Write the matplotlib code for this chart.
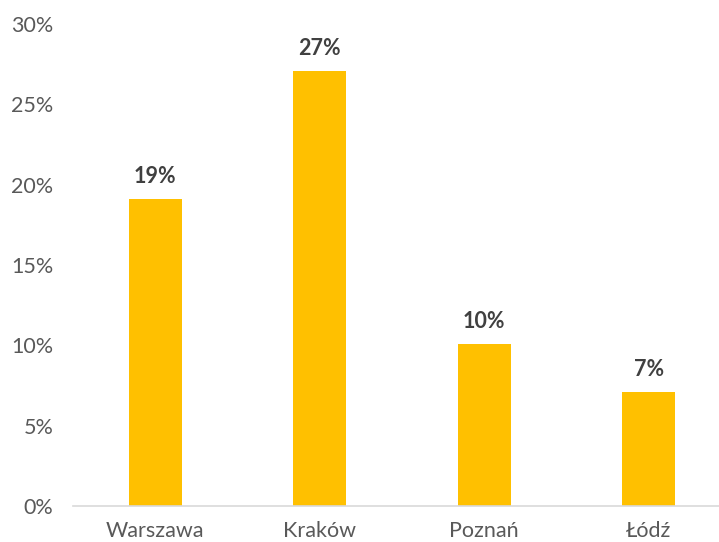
import matplotlib
matplotlib.use("Agg")
import matplotlib.pyplot as plt
from matplotlib.ticker import FuncFormatter

categories = ["Warszawa", "Kraków", "Poznań", "Łódź"]
values = [19.1, 27.1, 10.1, 7.1]
labels = ["19%", "27%", "10%", "7%"]

plt.rcParams['font.family'] = ['Lato', 'DejaVu Sans']

fig = plt.figure(figsize=(7.19, 5.42), dpi=100)
ax = fig.add_axes([73/719, 36/542, 658/719, 482/542])

x = range(len(categories))
bars = ax.bar(x, values, width=0.32, color="#FFC000", zorder=2)
for xi, v, lab in zip(x, values, labels):
    ax.text(xi, v + 0.75, lab, ha="center", va="bottom", fontsize=15.5,
            fontweight="bold", color="#404040")

ax.set_xlim(-0.5, len(categories) - 0.5)
ax.set_ylim(0, 30)
ax.set_yticks(range(0, 31, 5))
ax.yaxis.set_major_formatter(FuncFormatter(lambda v, p: f"{int(v)}%"))
ax.set_xticks(list(x))
ax.set_xticklabels(categories)
ax.tick_params(axis="both", length=0, labelsize=15.5, labelcolor="#595959")
ax.tick_params(axis="x", pad=11)
ax.tick_params(axis="y", pad=14)
for s in ["top", "right", "left"]:
    ax.spines[s].set_visible(False)
ax.spines["bottom"].set_color("#D9D9D9")
ax.spines["bottom"].set_linewidth(1.2)

fig.savefig("out.png", dpi=100)
